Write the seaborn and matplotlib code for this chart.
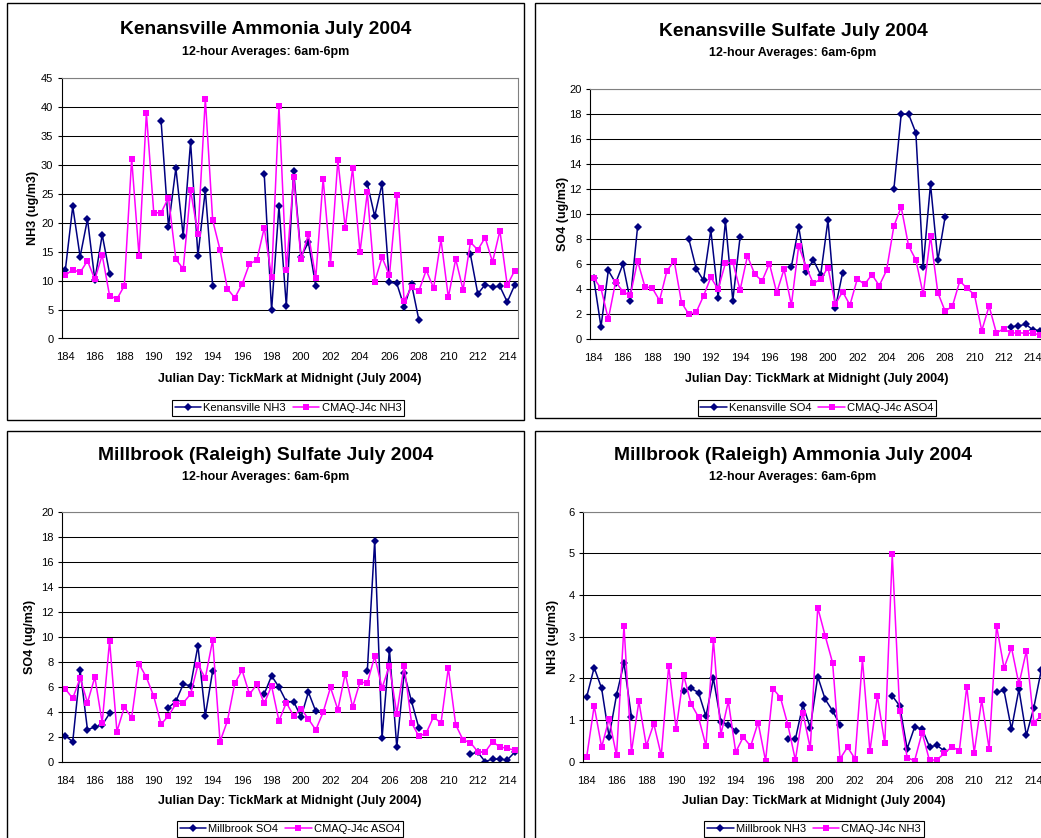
import numpy as np
import pandas as pd
import matplotlib
matplotlib.use("Agg")
import matplotlib.pyplot as plt
from matplotlib.lines import Line2D
from matplotlib.patches import Rectangle
import seaborn as sns

nan = np.nan

# ---------------- data ----------------
# 12-hour periods, 62 categories: 184, 184.5, ..., 214.5
days = [184 + 0.5 * i for i in range(62)]
xtick_labels = [str(d) for d in range(184, 215, 2)]

kv_nh3_obs = [11.9, 22.8, 14.1, 20.6, 10.1, 17.9, 11.2, nan, nan, nan, nan, nan, nan,
              37.5, 19.3, 29.4, 17.7, 33.9, 14.3, 25.6, 9.0, nan, nan, nan, nan, nan, nan,
              28.4, 4.9, 22.8, 5.6, 28.9, 14.1, 16.6, 9.0, nan, nan, nan, nan, nan, nan,
              26.7, 21.1, 26.7, 9.7, 9.5, 5.5, 9.4, 3.2, nan, nan, nan, nan, nan, nan,
              14.5, 7.7, 9.3, 8.9, 9.0, 6.3, 9.2]
kv_nh3_mod = [10.9, 11.9, 11.4, 13.4, 10.2, 14.4, 7.4, 6.8, 9.1, 31.0,
              14.3, 38.9, 21.7, 21.7, 24.3, 13.7, 12.0, 25.6, 18.0, 41.4,
              20.4, 15.3, 8.6, 7.0, 9.4, 12.9, 13.5, 19.1, 10.6, 40.1,
              11.8, 27.9, 13.7, 18.0, 10.5, 27.6, 12.9, 30.8, 19.1, 29.4,
              14.9, 25.2, 9.8, 14.0, 10.9, 24.8, 6.5, 8.8, 8.2, 11.8,
              8.7, 17.1, 7.1, 13.7, 8.4, 16.6, 15.3, 17.4, 13.2, 18.6,
              9.2, 11.7]

kv_so4_obs = [4.9, 1.0, 5.5, 4.5, 6.0, 3.1, 9.0, nan, nan, nan, nan, nan, nan,
              8.0, 5.65, 4.7, 8.73, 3.33, 9.45, 3.1, 8.2, nan, nan, nan, nan, nan, nan,
              5.8, 9.0, 5.4, 6.34, 5.14, 9.53, 2.48, 5.33, nan, nan, nan, nan, nan, nan,
              12.0, 18.0, 18.0, 16.5, 5.8, 12.4, 6.3, 9.8, nan, nan, nan, nan, nan, nan, nan, nan,
              1.0, 1.07, 1.2, 0.75, 0.7]
kv_so4_mod = [4.9, 4.07, 1.62, 4.6, 3.8, 3.5, 6.26, 4.2, 4.1, 3.1,
              5.46, 6.26, 2.93, 2.0, 2.16, 3.46, 4.95, 4.0, 6.1, 6.15,
              3.94, 6.66, 5.2, 4.66, 6.05, 3.73, 5.6, 2.74, 7.48, 5.8,
              4.47, 4.8, 5.73, 2.8, 3.8, 2.74, 4.82, 4.39, 5.17, 4.29,
              5.51, 9.05, 10.57, 7.48, 6.34, 3.6, 8.26, 3.73, 2.24, 2.66,
              4.66, 4.07, 3.57, 0.69, 2.66, 0.5, 0.85, 0.48, 0.53, 0.48,
              0.48, 0.35]

mb_so4_obs = [2.1, 1.65, 7.37, 2.6, 2.82, 2.98, 3.9, nan, nan, nan, nan, nan, nan, nan,
              4.36, 4.87, 6.22, 6.12, 9.3, 3.72, 7.29, nan, nan, nan, nan, nan, nan,
              5.45, 6.9, 6.0, 4.84, 4.84, 3.62, 5.6, 4.07, nan, nan, nan, nan, nan, nan,
              7.31, 17.7, 1.94, 9.0, 1.22, 7.1, 4.87, 2.74, nan, nan, nan, nan, nan, nan,
              0.66, 0.8, 0.05, 0.27, 0.24, 0.19, 0.8]
mb_so4_mod = [5.85, 5.1, 6.73, 4.76, 6.8, 3.16, 9.7, 2.45, 4.4, 3.56,
              7.85, 6.78, 5.27, 3.03, 3.72, 4.65, 4.73, 5.45, 7.77, 6.73,
              9.76, 1.65, 3.3, 6.3, 7.34, 5.43, 6.22, 4.7, 6.1, 3.3,
              4.76, 3.7, 4.28, 3.46, 2.58, 4.0, 5.98, 4.2, 7.07, 4.41,
              6.4, 6.33, 8.46, 5.93, 7.71, 3.88, 7.71, 3.16, 2.07, 2.34,
              3.64, 3.11, 7.53, 3.0, 1.78, 1.57, 0.85, 0.82, 1.65, 1.22,
              1.12, 0.96]

mb_nh3_obs = [1.56, 2.26, 1.76, 0.6, 1.6, 2.37, 1.08, nan, nan, nan, nan, nan, nan,
              1.7, 1.76, 1.66, 1.09, 2.0, 0.96, 0.89, 0.74, nan, nan, nan, nan, nan, nan,
              0.54, 0.54, 1.36, 0.82, 2.04, 1.5, 1.22, 0.88, nan, nan, nan, nan, nan, nan,
              1.58, 1.34, 0.31, 0.83, 0.79, 0.36, 0.39, 0.26, nan, nan, nan, nan, nan, nan,
              1.67, 1.71, 0.78, 1.74, 0.63, 1.3, 2.2]
mb_nh3_mod = [0.12, 1.34, 0.35, 1.03, 0.15, 3.26, 0.23, 1.45, 0.38, 0.91,
              0.15, 2.3, 0.78, 2.08, 1.39, 1.07, 0.38, 2.92, 0.65, 1.45,
              0.23, 0.59, 0.37, 0.94, 0.02, 1.75, 1.54, 0.88, 0.04, 1.18,
              0.32, 3.7, 3.02, 2.37, 0.07, 0.35, 0.07, 2.46, 0.25, 1.58,
              0.44, 4.98, 1.22, 0.1, 0.02, 0.7, 0.03, 0.05, 0.2, 0.36,
              0.26, 1.8, 0.22, 1.48, 0.31, 3.26, 2.25, 2.74, 1.86, 2.66,
              0.94, 1.1]

# ---------------- style ----------------
sns.set_style("white")
plt.rcParams["font.family"] = ["Liberation Sans", "DejaVu Sans"]
plt.rcParams["text.color"] = "black"
plt.rcParams["axes.labelcolor"] = "black"
plt.rcParams["xtick.color"] = "black"
plt.rcParams["ytick.color"] = "black"

W, H = 1041, 838
fig = plt.figure(figsize=(W / 100, H / 100), dpi=100)
fig.patch.set_facecolor("white")

NAVY = "#000080"
PINK = "#FF00FF"


def fx(px):
    return px / W


def fy(py):
    return 1 - py / H


def frame(x0, y0, x1, y1):
    fig.add_artist(Rectangle((fx(x0), fy(y1)), (x1 - x0) / W, (y1 - y0) / H,
                             transform=fig.transFigure, fill=False,
                             edgecolor="black", linewidth=1.0))


def draw_series(ax, vals, color, marker, ms):
    v = np.array(vals, dtype=float)
    seg = np.cumsum(np.isnan(v))
    df = pd.DataFrame({"day": days, "val": v, "seg": seg}).dropna()
    sns.lineplot(data=df, x="day", y="val", units="seg", estimator=None,
                 color=color, marker=marker, markersize=ms, markeredgewidth=0,
                 linewidth=1.1, ax=ax, legend=False)


def panel(box, ymax, ystep, obs, mod, title, title_xy, ylabel, ylabel_xy,
          xlabel_xy, leg_xy, obs_label, mod_label):
    x0, y0, x1, y1 = box
    ax = fig.add_axes([fx(x0), fy(y1), (x1 - x0) / W, (y1 - y0) / H])
    ax.set_facecolor("white")
    draw_series(ax, obs, NAVY, "D", 3.6)
    draw_series(ax, mod, PINK, "s", 5.0)
    ax.set_xlim(183.75, 214.75)
    ax.set_ylim(0, ymax)
    yt = np.arange(0, ymax + ystep / 2, ystep)
    ax.set_yticks(yt)
    ax.set_yticklabels([f"{v:g}" for v in yt])
    ax.set_xticks([184 + 2 * k for k in range(len(xtick_labels))])
    ax.set_xticklabels(xtick_labels)
    ax.set_xticks([183.75 + 0.5 * k for k in range(63)], minor=True)
    ax.tick_params(axis="x", which="major", length=0, pad=10, labelsize=8,
                   labelcolor="black")
    ax.tick_params(axis="x", which="minor", length=3, width=0.8, direction="out",
                   color="black")
    ax.tick_params(axis="y", which="major", length=3, width=0.8, direction="out",
                   pad=3, labelsize=8, color="black", labelcolor="black", left=True)
    ax.set_xlabel("")
    ax.set_ylabel("")
    ax.grid(axis="y", color="black", linewidth=0.75)
    ax.grid(axis="x", visible=False)
    ax.set_axisbelow(True)
    for s in ["top", "right"]:
        ax.spines[s].set_color("#808080")
        ax.spines[s].set_linewidth(0.8)
        ax.spines[s].set_visible(True)
    for s in ["left", "bottom"]:
        ax.spines[s].set_color("black")
        ax.spines[s].set_linewidth(0.8)
        ax.spines[s].set_visible(True)

    tx, ty = title_xy
    fig.text(fx(tx), fy(ty), title, ha="center", va="center", fontsize=13.9,
             fontweight="bold", color="black")
    fig.text(fx(tx), fy(ty + 22), "12-hour Averages: 6am-6pm", ha="center",
             va="center", fontsize=9, fontweight="bold", color="black")
    fig.text(fx(ylabel_xy[0]), fy(ylabel_xy[1]), ylabel, rotation=90,
             ha="center", va="center", fontsize=9, fontweight="bold",
             color="black")
    fig.text(fx(xlabel_xy[0]), fy(xlabel_xy[1]),
             "Julian Day: TickMark at Midnight (July 2004)", ha="center",
             va="center", fontsize=9, fontweight="bold", color="black")
    handles = [Line2D([], [], color=NAVY, marker="D", markersize=3.6,
                      markeredgewidth=0, linewidth=1.1),
               Line2D([], [], color=PINK, marker="s", markersize=5.0,
                      markeredgewidth=0, linewidth=1.1)]
    leg = ax.legend(handles, [obs_label, mod_label], loc="center",
                    bbox_to_anchor=(fx(leg_xy[0]), fy(leg_xy[1])),
                    bbox_transform=fig.transFigure, ncol=2, frameon=True,
                    fancybox=False, edgecolor="black", framealpha=1,
                    fontsize=8, handlelength=2.4, handletextpad=0.2,
                    columnspacing=0.6, borderpad=0.25, borderaxespad=0,
                    labelcolor="black")
    leg.get_frame().set_linewidth(0.8)
    return ax


# chart frames
frame(7, 3, 524, 420)
frame(535, 3, 1090, 418)
frame(7, 431, 524, 900)
frame(535, 431, 1090, 900)

panel((61.7, 77.7, 518.3, 338.5), 45, 5, kv_nh3_obs, kv_nh3_mod,
      "Kenansville Ammonia July 2004", (265.5, 30), "NH3 (ug/m3)", (33, 208),
      (290, 379), (288, 408), "Kenansville NH3", "CMAQ-J4c NH3")
panel((590, 89, 1044, 339.3), 20, 2, kv_so4_obs, kv_so4_mod,
      "Kenansville Sulfate July 2004", (793, 31), "SO4 (ug/m3)", (563, 214),
      (817, 379), (817, 408), "Kenansville SO4", "CMAQ-J4c ASO4")
panel((61.7, 511.7, 518.3, 762.3), 20, 2, mb_so4_obs, mb_so4_mod,
      "Millbrook (Raleigh) Sulfate July 2004", (265.5, 455), "SO4 (ug/m3)",
      (30, 637), (290, 801), (290, 829), "Millbrook SO4", "CMAQ-J4c ASO4")
panel((583, 511.7, 1045, 761.7), 6, 1, mb_nh3_obs, mb_nh3_mod,
      "Millbrook (Raleigh) Ammonia July 2004", (792.5, 455), "NH3 (ug/m3)",
      (553, 637), (814, 801), (814, 829), "Millbrook NH3", "CMAQ-J4c NH3")

fig.savefig("out.png", dpi=100, facecolor="white")
